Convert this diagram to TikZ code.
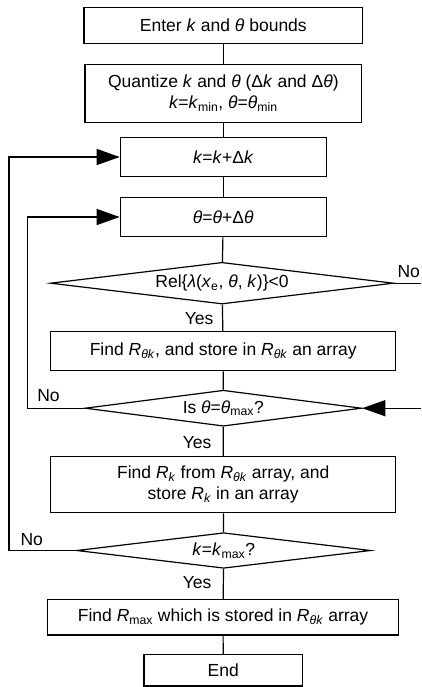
\documentclass[tikz,border=0pt]{standalone}
\usepackage{fontspec}
\setmainfont{Liberation Sans}
\usetikzlibrary{shapes.geometric,arrows.meta}
\newcommand{\iv}[1]{\textit{#1}}
\newcommand{\sbx}[1]{\textsubscript{#1}}
\begin{document}
\begin{tikzpicture}[x=1pt,y=-1pt,
  font=\fontsize{17.5}{21}\selectfont,
  every path/.style={line width=1.2pt},
  box/.style={draw,rectangle,inner sep=0pt,align=center},
  dia/.style={draw,diamond,aspect=8,inner sep=0pt},
  arr/.style={-{Triangle[length=23pt,width=16pt]}},
  lbl/.style={inner sep=0pt}]
\useasboundingbox (0,0) rectangle (421,687);
\node[box,minimum width=278.6pt,minimum height=36pt] (b1) at (223.3,25.7) {Enter \iv{k} and \iv{θ} bounds};
\node[box,minimum width=276.7pt,minimum height=58.4pt] (b2) at (223.3,93.5) {Quantize \iv{k} and \iv{θ} (Δ\iv{k} and Δ\iv{θ})\\\iv{k}=\iv{k}\sbx{min}, \iv{θ}=\iv{θ}\sbx{min}};
\node[box,minimum width=206pt,minimum height=39.4pt] (b3) at (223.3,157) {\iv{k}=\iv{k}+Δ\iv{k}};
\node[box,minimum width=206pt,minimum height=39.4pt] (b4) at (223.3,217) {\iv{θ}=\iv{θ}+Δ\iv{θ}};
\node[dia,minimum width=343pt,minimum height=41.7pt] (d1) at (222,283.2) {Rel\{\iv{λ}(\iv{x}\sbx{e}, \iv{θ}, \iv{k})\}<0};
\node[box,minimum width=345pt,minimum height=39pt] (b5) at (223.2,351.2) {Find \iv{R}\sbx{\iv{θk}}, and store in \iv{R}\sbx{\iv{θk}} an array};
\node[dia,minimum width=276.7pt,minimum height=36pt] (d2) at (223.3,408.2) {Is \iv{θ}=\iv{θ}\sbx{max}?};
\node[box,minimum width=345pt,minimum height=56pt] (b6) at (223.2,484.7) {Find \iv{R}\sbx{\iv{k}} from \iv{R}\sbx{\iv{θk}} array, and\\store \iv{R}\sbx{\iv{k}} in an array};
\node[dia,minimum width=294pt,minimum height=35.6pt] (d3) at (223.7,550.5) {\iv{k}=\iv{k}\sbx{max}?};
\node[box,minimum width=350.6pt,minimum height=35.7pt] (b7) at (223,617.2) {Find \iv{R}\sbx{max} which is stored in \iv{R}\sbx{\iv{θk}} array};
\node[box,minimum width=158.7pt,minimum height=31.3pt] (b8) at (223.3,670.3) {End};
\coordinate (ox) at (9,0);
\coordinate (ix) at (27.3,0);
\coordinate (re1) at (421,283.2);
\coordinate (re2) at (421,408.2);
\draw (b1) -- (b2);
\draw (b2) -- (b3);
\draw (b3) -- (b4);
\draw (b4) -- (d1);
\draw (d1) -- (b5);
\draw (b5) -- (d2);
\draw (d2) -- (b6);
\draw (b6) -- (d3);
\draw (d3) -- (b7);
\draw (b7) -- (b8);
\draw (d1.east) -- (re1);
\draw[arr] (re2) -- (d2.east);
\draw[arr] (d2.west) -- (d2.west -| ix) |- (b4.west);
\draw[arr] (d3.west) -- (d3.west -| ox) |- (b3.west);
\node[lbl,anchor=east] (y1) at (214,318.3) {Yes};
\node[lbl,anchor=east] (y2) at (212,442.3) {Yes};
\node[lbl,anchor=east] (y3) at (212,582.3) {Yes};
\node[lbl,anchor=east] (n1) at (420.5,271.7) {No};
\node[lbl,anchor=west] (n2) at (36.7,395.7) {No};
\node[lbl,anchor=west] (n3) at (20,539.3) {No};
\end{tikzpicture}
\end{document}
